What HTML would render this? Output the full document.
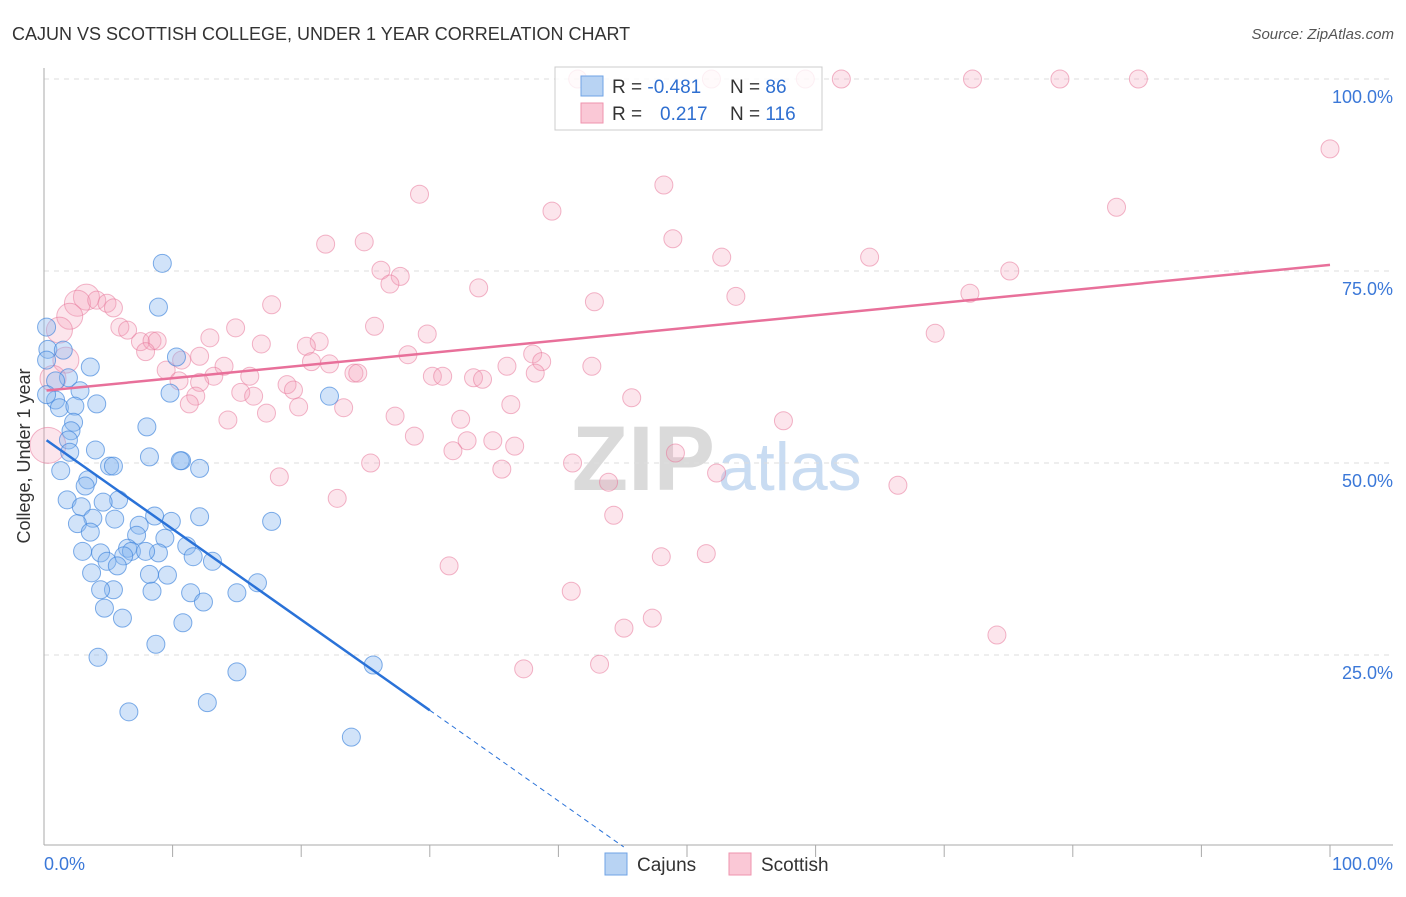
<!DOCTYPE html>
<html><head><meta charset="utf-8"><style>
body{margin:0;background:#fff;font-family:"Liberation Sans",sans-serif;}
svg text{font-family:"Liberation Sans",sans-serif;}
</style></head><body>
<svg id="chart" width="1406" height="892">
<text x="12" y="40" font-size="18" fill="#333">CAJUN VS SCOTTISH COLLEGE, UNDER 1 YEAR CORRELATION CHART</text>
<text x="1394" y="39" font-size="15" fill="#555" font-style="italic" text-anchor="end">Source: ZipAtlas.com</text>
<text x="715" y="490" font-size="92" font-weight="bold" fill="#dadada" text-anchor="end" font-family="Liberation Serif">ZIP</text>
<text x="718" y="490" font-size="68" fill="#c9dcf2">atlas</text>
<g id="grid"></g><g id="axes"></g><g id="pts"></g><g id="trend"></g>
<text x="30" y="456" font-size="18" fill="#333" text-anchor="middle" transform="rotate(-90 30 456)">College, Under 1 year</text>
<g>
<rect x="555" y="67" width="267" height="63" fill="rgba(255,255,255,0.8)" stroke="#ccc"/>
<rect x="581" y="76" width="22" height="20" fill="#b8d3f3" stroke="#6fa3e6"/>
<rect x="581" y="103" width="22" height="20" fill="#fac8d6" stroke="#ef93ae"/>
<text x="612" y="93" font-size="19" fill="#333">R = <tspan fill="#2f6fd0">-0.481</tspan></text>
<text x="730" y="93" font-size="19" fill="#333">N = <tspan fill="#2f6fd0"> 86</tspan></text>
<text x="612" y="120" font-size="19" fill="#333">R =</text>
<text x="660" y="120" font-size="19" fill="#2f6fd0">0.217</text>
<text x="730" y="120" font-size="19" fill="#333">N = <tspan fill="#2f6fd0">116</tspan></text>
</g>
<g><rect x="605" y="853" width="22" height="22" fill="#b8d3f3" stroke="#6fa3e6"/><text x="637" y="871" font-size="19" fill="#333">Cajuns</text></g>
<g><rect x="729" y="853" width="22" height="22" fill="#fac8d6" stroke="#ef93ae"/><text x="761" y="871" font-size="19" fill="#333">Scottish</text></g>
</svg>
<script>
const yTicks=[100,75,50,25];
const yTickLabels=["100.0%","75.0%","50.0%","25.0%"];
const xTickVals=[10,20,30,40,50,60,70,80,90,100];
const cajunX=[9.2,8.9,0.2,0.3,1.5,10.3,3.6,1.9,0.9,2.8,9.8,22.2,0.9,4.1,1.2,2.4,2.3,8.0,2.1,1.9,4.0,2.0,8.2,10.7,10.6,5.1,5.4,1.3,12.1,3.4,3.2,1.8,5.8,4.6,2.9,3.8,5.5,8.6,12.1,9.9,17.7,2.6,7.4,3.6,7.2,9.4,3.0,11.1,6.5,4.4,6.8,8.9,7.9,6.2,11.6,13.1,4.9,5.7,3.7,8.2,9.6,16.6,5.4,4.4,8.4,11.4,15.0,12.4,4.7,6.1,10.8,8.7,4.2,25.6,15.0,12.7,6.6,23.9,0.2,0.2];
const cajunY=[76.0,70.3,67.7,64.8,64.7,63.8,62.5,61.1,60.7,59.4,59.1,58.7,58.2,57.7,57.2,57.4,55.3,54.7,54.2,53.0,51.7,51.4,50.8,50.3,50.3,49.6,49.6,49.0,49.3,47.8,47.0,45.2,45.2,44.9,44.3,42.8,42.7,43.1,43.0,42.4,42.4,42.1,41.9,41.0,40.6,40.2,38.5,39.2,38.9,38.3,38.5,38.3,38.5,37.9,37.8,37.2,37.2,36.6,35.7,35.5,35.4,34.4,33.5,33.5,33.3,33.1,33.1,31.9,31.1,29.8,29.2,26.4,24.7,23.7,22.8,18.8,17.6,14.3,63.4,58.9];
const scotX=[41.5,51.9,59.2,62.0,72.2,79.0,85.1,100,29.2,48.2,39.5,83.4,48.9,21.9,24.9,52.7,64.2,26.2,27.7,26.9,75.1,33.8,53.8,72.0,42.8,17.7,3.3,2.6,4.1,4.9,5.4,2.0,1.2,5.9,6.5,14.9,25.7,69.3,29.8,12.9,7.5,8.4,8.8,16.9,21.4,20.4,7.9,12.1,28.3,38.0,1.7,10.7,20.8,22.2,14.0,36.0,42.6,38.7,9.5,24.1,24.4,38.2,13.2,16.0,30.2,31.0,33.4,34.1,10.5,12.1,18.9,19.4,15.3,11.8,16.3,45.7,11.3,19.8,23.3,36.3,17.3,27.3,14.3,32.4,57.5,28.8,32.9,34.9,36.6,31.8,49.1,25.4,41.1,35.6,52.3,18.3,43.9,66.4,22.8,44.3,48.0,51.5,31.5,41.0,47.3,45.1,74.1,43.2,37.3,0.3,0.7];
const scotY=[100,100,100,100,100,100,100,90.9,85.0,86.2,82.8,83.3,79.2,78.5,78.8,76.8,76.8,75.1,74.3,73.3,75.0,72.8,71.7,72.1,71.0,70.6,71.6,70.8,71.2,70.8,70.2,69.1,67.3,67.7,67.3,67.6,67.8,66.9,66.8,66.3,65.8,65.9,65.9,65.5,65.8,65.2,64.5,63.9,64.1,64.2,63.4,63.4,63.2,62.9,62.6,62.6,62.6,63.2,62.1,61.7,61.7,61.7,61.3,61.3,61.3,61.3,61.1,60.9,60.7,60.5,60.2,59.5,59.2,58.7,58.7,58.5,57.7,57.3,57.2,57.6,56.5,56.1,55.6,55.7,55.5,53.5,52.9,52.9,52.2,51.6,51.3,50.0,50.0,49.2,48.7,48.2,47.5,47.1,45.4,43.2,37.8,38.2,36.6,33.3,29.8,28.5,27.6,23.8,23.2,52.3,61.0];
const scotBig=[0,0,0,0,0,0,0,0,0,0,0,0,0,0,0,0,0,0,0,0,0,0,0,0,0,0,1,1,0,0,0,1,1,0,0,0,0,0,0,0,0,0,0,0,0,0,0,0,0,0,1,0,0,0,0,0,0,0,0,0,0,0,0,0,0,0,0,0,0,0,0,0,0,0,0,0,0,0,0,0,0,0,0,0,0,0,0,0,0,0,0,0,0,0,0,0,0,0,0,0,0,0,0,0,0,0,0,0,0,2,1];
const cajunTrend=[53.2,-1.18];
const scotTrend=[59.4,0.164];
const NS="http://www.w3.org/2000/svg";
const X0=44,X1=1330,Y0=847,Y100=79;
function sx(v){return X0+(X1-X0)*v/100;}
function sy(v){return Y0-(Y0-Y100)*v/100;}
function mk(t,a,p){const e=document.createElementNS(NS,t);for(const k in a)e.setAttribute(k,a[k]);document.getElementById(p).appendChild(e);return e;}
yTicks.forEach((v,i)=>{
 const l=mk('line',{x1:44,x2:1393,y1:sy(v),y2:sy(v),stroke:'#ddd','stroke-dasharray':'5,5'},'grid');
 
 
 const t=mk('text',{x:1393,y:sy(v)+24,'font-size':18,fill:'#3b78d8','text-anchor':'end'},'grid');
 t.textContent=yTickLabels[i];
 
 
});
let a=mk('line',{x1:44,x2:44,y1:68,y2:845,stroke:'#aaa'},'axes');


a=mk('line',{x1:44,x2:1393,y1:845,y2:845,stroke:'#aaa'},'axes');


xTickVals.forEach(v=>{const t=mk('line',{x1:sx(v),x2:sx(v),y1:845,y2:857,stroke:'#aaa'},'axes');
 
 });
let tl=mk('text',{x:44,y:870,'font-size':18,fill:'#3b78d8'},'axes');tl.textContent='0.0%';


tl=mk('text',{x:1393,y:870,'font-size':18,fill:'#3b78d8','text-anchor':'end'},'axes');tl.textContent='100.0%';


scotX.forEach((x,i)=>{const r=scotBig[i]===2?18:scotBig[i]===1?13:9;
 const c=mk('circle',{cx:sx(x),cy:sy(scotY[i]),r:r,fill:'rgba(246,160,186,0.28)',stroke:'rgba(232,120,155,0.55)'},'pts');
 
 });
cajunX.forEach((x,i)=>{const c=mk('circle',{cx:sx(x),cy:sy(cajunY[i]),r:9,fill:'rgba(140,185,240,0.4)',stroke:'rgba(60,130,220,0.65)'},'pts');
 
 });
const f=(t,x)=>t[0]+t[1]*x;
let ln=mk('line',{x1:sx(0.2),y1:sy(f(scotTrend,0.2)),x2:sx(100),y2:sy(f(scotTrend,100)),stroke:'#e8709a','stroke-width':2.5},'trend');


ln=mk('line',{x1:sx(0.2),y1:sy(f(cajunTrend,0.2)),x2:sx(30),y2:sy(f(cajunTrend,30)),stroke:'#2a72d8','stroke-width':2.5},'trend');


const xe=-cajunTrend[0]/cajunTrend[1];
ln=mk('line',{x1:sx(30),y1:sy(f(cajunTrend,30)),x2:sx(xe),y2:sy(0),stroke:'#2a72d8','stroke-width':1,'stroke-dasharray':'5,4'},'trend');


</script>
</body></html>
